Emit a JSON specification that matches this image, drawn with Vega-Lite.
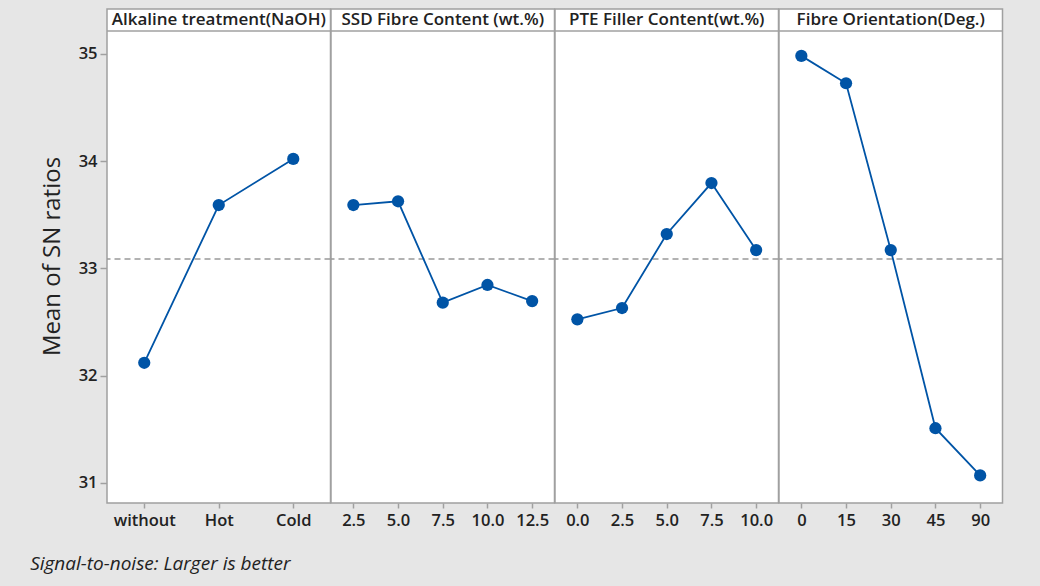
{
  "$schema": "https://vega.github.io/schema/vega-lite/v6.json",
  "background": "#e6e6e6",
  "padding": {"left": 30, "top": 8, "right": 38, "bottom": 11},
  "data": {"values": [
    {"factor": "Alkaline treatment(NaOH)", "level": "without", "sn": 32.12},
    {"factor": "Alkaline treatment(NaOH)", "level": "Hot", "sn": 33.59},
    {"factor": "Alkaline treatment(NaOH)", "level": "Cold", "sn": 34.02},
    {"factor": "SSD Fibre Content (wt.%)", "level": "2.5", "sn": 33.59},
    {"factor": "SSD Fibre Content (wt.%)", "level": "5.0", "sn": 33.625},
    {"factor": "SSD Fibre Content (wt.%)", "level": "7.5", "sn": 32.68},
    {"factor": "SSD Fibre Content (wt.%)", "level": "10.0", "sn": 32.845},
    {"factor": "SSD Fibre Content (wt.%)", "level": "12.5", "sn": 32.695},
    {"factor": "PTE Filler Content(wt.%)", "level": "0.0", "sn": 32.525},
    {"factor": "PTE Filler Content(wt.%)", "level": "2.5", "sn": 32.63},
    {"factor": "PTE Filler Content(wt.%)", "level": "5.0", "sn": 33.32},
    {"factor": "PTE Filler Content(wt.%)", "level": "7.5", "sn": 33.795},
    {"factor": "PTE Filler Content(wt.%)", "level": "10.0", "sn": 33.17},
    {"factor": "Fibre Orientation(Deg.)", "level": "0", "sn": 34.98},
    {"factor": "Fibre Orientation(Deg.)", "level": "15", "sn": 34.725},
    {"factor": "Fibre Orientation(Deg.)", "level": "30", "sn": 33.17},
    {"factor": "Fibre Orientation(Deg.)", "level": "45", "sn": 31.51},
    {"factor": "Fibre Orientation(Deg.)", "level": "90", "sn": 31.07}
  ]},
  "config": {
    "font": "Open Sans",
    "view": {"stroke": "#a0a0a0", "strokeWidth": 1.5, "fill": "white"},
    "axis": {"labelFont": "Open Sans", "labelFontWeight": 600, "labelFontSize": 16.5, "labelColor": "#222222", "tickColor": "#a0a0a0", "tickWidth": 1.5, "grid": false, "domain": false},
    "facet": {"spacing": 0}
  },
  "title": {"text": "Signal-to-noise: Larger is better", "orient": "bottom", "anchor": "start", "fontStyle": "italic", "fontWeight": "normal", "fontSize": 19, "color": "#222222", "font": "Open Sans", "offset": 26, "dx": -10},
  "bounds": "flush",
  "facet": {"column": {"field": "factor", "type": "nominal", "header": null,
    "sort": ["Alkaline treatment(NaOH)", "SSD Fibre Content (wt.%)", "PTE Filler Content(wt.%)", "Fibre Orientation(Deg.)"]}},
  "spacing": 0,
  "resolve": {"scale": {"x": "independent"}, "axis": {"x": "independent"}},
  "spec": {
    "width": 223.5,
    "height": 494,
    "layer": [
      {"transform": [{"aggregate": [{"op": "count", "as": "n"}], "groupby": ["factor"]}],
       "mark": {"type": "rule", "color": "#999999", "strokeWidth": 1.5, "strokeDash": [6, 4]},
       "encoding": {"y": {"datum": 33.088, "type": "quantitative",
         "scale": {"domain": [30.813, 35.417], "nice": false, "zero": false},
         "axis": {"title": "Mean of SN ratios", "titleFontSize": 24, "titleFontWeight": "normal", "titleColor": "#222222", "titleFont": "Open Sans", "titlePadding": 14, "values": [31, 32, 33, 34, 35], "format": "d", "tickSize": 7, "labelPadding": 3}}}},
      {"transform": [{"aggregate": [{"op": "count", "as": "n"}], "groupby": ["factor"]}],
       "mark": {"type": "rule", "color": "#a0a0a0", "strokeWidth": 1.5},
       "encoding": {"y": {"datum": 35.212, "type": "quantitative"}}},
      {"transform": [{"aggregate": [{"op": "count", "as": "n"}], "groupby": ["factor"]}],
       "mark": {"type": "text", "fontSize": 17, "fontWeight": 600, "color": "#222222", "baseline": "middle", "font": "Open Sans"},
       "encoding": {"y": {"datum": 35.3145, "type": "quantitative"}, "text": {"field": "factor"}}},
      {"mark": {"type": "line", "color": "#0054a6", "strokeWidth": 1.8},
       "encoding": {"x": {"field": "level", "type": "ordinal", "sort": null, "scale": {"type": "point", "padding": 0.5}, "axis": {"title": null, "labelAngle": 0, "tickSize": 5, "labelPadding": 4}},
         "y": {"field": "sn", "type": "quantitative"}}},
      {"mark": {"type": "point", "filled": true, "opacity": 1, "color": "#0054a6", "size": 150},
       "encoding": {"x": {"field": "level", "type": "ordinal", "sort": null},
         "y": {"field": "sn", "type": "quantitative"}}}
    ]
  }
}
